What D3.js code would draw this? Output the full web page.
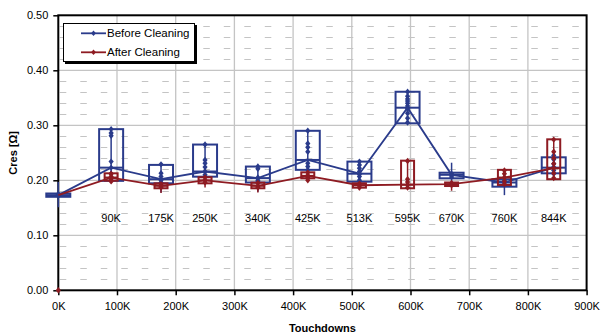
<!DOCTYPE html>
<html><head><meta charset="utf-8">
<script src="https://cdn.jsdelivr.net/npm/d3@7/dist/d3.min.js"></script>
<style>html,body{margin:0;padding:0;background:#fff;}svg{display:block;font-family:"Liberation Sans",Arial,sans-serif;}</style>
</head><body>
<svg id="chart" width="601" height="336"></svg>
<script>
// ---- data ----
const categories = [0, 90, 175, 250, 340, 425, 513, 595, 670, 760, 844];
const groupLabels = ["", "90K", "175K", "250K", "340K", "425K", "513K", "595K", "670K", "760K", "844K"];
const xTicks = [0, 100, 200, 300, 400, 500, 600, 700, 800, 900];
const xTickLabels = ["0K", "100K", "200K", "300K", "400K", "500K", "600K", "700K", "800K", "900K"];
const yTicks = [0, 0.1, 0.2, 0.3, 0.4, 0.5];
const yTickLabels = ["0.00", "0.10", "0.20", "0.30", "0.40", "0.50"];
const seriesNames = ["Before Cleaning", "After Cleaning"];

const beforeMid    = [0.173, 0.223, 0.202, 0.216, 0.204, 0.237, 0.212, 0.332, 0.210, 0.196, 0.223];
const beforeBoxLo  = [0.170, 0.199, 0.1945, 0.2066, 0.196, 0.219, 0.1975, 0.3036, 0.2036, 0.1884, 0.2127];
const beforeBoxHi  = [0.176, 0.293, 0.228, 0.265, 0.225, 0.290, 0.234, 0.361, 0.2138, 0.2018, 0.2418];
const beforeWhLo   = [0.151, 0.195, 0.178, 0.205, 0.179, 0.215, 0.194, 0.303, 0.188, 0.173, 0.210];
const beforeWhHi   = [0.197, 0.293, 0.229, 0.265, 0.225, 0.290, 0.234, 0.361, 0.232, 0.213, 0.245];
const beforePoints = [
  [0.173, 0.172, 0.175],
  [0.293, 0.286, 0.281, 0.234, 0.223, 0.212, 0.205, 0.200],
  [0.229, 0.213, 0.207, 0.200, 0.196],
  [0.265, 0.237, 0.231, 0.224, 0.216, 0.210],
  [0.225, 0.221, 0.205, 0.200, 0.197],
  [0.290, 0.267, 0.260, 0.252, 0.231, 0.225, 0.219],
  [0.234, 0.228, 0.222, 0.216, 0.211, 0.207, 0.200],
  [0.361, 0.353, 0.348, 0.344, 0.340, 0.335, 0.330, 0.322, 0.313, 0.305],
  [0.212, 0.209, 0.206],
  [0.200, 0.196, 0.192],
  [0.245, 0.238, 0.230, 0.224, 0.218, 0.212]
];

const afterMid    = [0.173, 0.205, 0.190, 0.200, 0.190, 0.208, 0.191, 0.192, 0.193, 0.205, 0.222];
const afterBoxLo  = [null, 0.1993, 0.1855, 0.1945, 0.1855, 0.2036, 0.1866, 0.1855, 0.1896, 0.1915, 0.202];
const afterBoxHi  = [null, 0.2127, 0.1945, 0.2055, 0.1957, 0.2145, 0.1945, 0.2357, 0.196, 0.219, 0.2745];
const afterWhLo   = [null, 0.196, 0.177, 0.187, 0.178, 0.197, 0.182, 0.185, 0.181, 0.190, 0.202];
const afterWhHi   = [null, 0.213, 0.195, 0.206, 0.196, 0.215, 0.195, 0.236, 0.196, 0.220, 0.275];
const afterPoints = [
  [0.0],
  [0.212, 0.207, 0.203, 0.198],
  [0.193, 0.190, 0.187],
  [0.205, 0.200, 0.196],
  [0.195, 0.190, 0.187],
  [0.214, 0.209, 0.205, 0.200],
  [0.194, 0.190, 0.187],
  [0.235, 0.202, 0.197, 0.192, 0.187],
  [0.195, 0.191],
  [0.218, 0.212, 0.205, 0.198, 0.193],
  [0.274, 0.252, 0.240, 0.230, 0.222, 0.213, 0.204]
];

// ---- layout ----
const BLUE = "#2A3B8B", RED = "#8E1B22", GRID = "#C4C4C4";
const svg = d3.select("#chart");
const x = d3.scaleLinear().domain([0, 900]).range([58.3, 586.6]);
const y = d3.scaleLinear().domain([0, 0.5]).range([290.3, 15.3]);
const x0 = x.range()[0], x1 = x.range()[1], y0 = y.range()[0], y1 = y.range()[1];

// minor dashed gridlines
const minor = d3.range(0.02, 0.5, 0.02).filter(v => Math.abs(v*10 - Math.round(v*10)) > 1e-6);
svg.append("g").selectAll("line").data(minor).join("line")
  .attr("x1", x0).attr("x2", x1).attr("y1", d => Math.round(y(d)) + 0.5).attr("y2", d => Math.round(y(d)) + 0.5)
  .attr("stroke", GRID).attr("stroke-width", 1).attr("stroke-dasharray", "6.5,14").attr("stroke-dashoffset", -1.5);
// major gridlines
svg.append("g").selectAll("line").data(yTicks.slice(1, -1)).join("line")
  .attr("x1", x0).attr("x2", x1).attr("y1", d => y(d)).attr("y2", d => y(d))
  .attr("stroke", GRID).attr("stroke-width", 1.3);
svg.append("g").selectAll("line").data(xTicks.slice(1, -1)).join("line")
  .attr("y1", y0).attr("y2", y1).attr("x1", d => x(d)).attr("x2", d => x(d))
  .attr("stroke", GRID).attr("stroke-width", 1.3);

// axes
const gx = svg.append("g").attr("transform", `translate(0,${y0})`)
  .call(d3.axisBottom(x).tickValues(xTicks).tickFormat((d, i) => xTickLabels[i]).tickSize(5).tickSizeOuter(0).tickPadding(7));
const gy = svg.append("g").attr("transform", `translate(${x0},0)`)
  .call(d3.axisLeft(y).tickValues(yTicks).tickFormat((d, i) => yTickLabels[i]).tickSize(5).tickSizeOuter(0).tickPadding(5));
[gx, gy].forEach(g => {
  g.select(".domain").remove();
  g.selectAll(".tick line").attr("stroke", "#000").attr("stroke-width", 1.5);
  g.selectAll(".tick text").attr("font-size", 11).attr("fill", "#000").attr("font-family", "Liberation Sans, Arial, sans-serif");
});
// frame
svg.append("rect").attr("x", x0).attr("y", y1).attr("width", x1 - x0).attr("height", y0 - y1)
  .attr("fill", "none").attr("stroke", "#000").attr("stroke-width", 2);

// axis titles
svg.append("text").attr("x", (x0 + x1) / 2).attr("y", 332).attr("text-anchor", "middle")
  .attr("font-size", 11).attr("font-weight", "bold").text("Touchdowns");
svg.append("text").attr("transform", `translate(17,${(y0 + y1) / 2}) rotate(-90)`).attr("text-anchor", "middle")
  .attr("font-size", 11).attr("font-weight", "bold").text("Cres [Ω]");

// group labels
svg.append("g").selectAll("text").data(categories).join("text")
  .attr("x", d => x(d)).attr("y", y(0.131)).attr("dy", "0.35em").attr("text-anchor", "middle")
  .attr("font-size", 11).attr("fill", "#000").text((d, i) => groupLabels[i]);

const diamond = (cx, cy, w = 2.6, h = 3.2) => `M${cx},${cy - h}L${cx + w},${cy}L${cx},${cy + h}L${cx - w},${cy}Z`;

function drawSeries(color, mid, lo, hi, wlo, whi, pts, halfW) {
  const g = svg.append("g");
  categories.forEach((c, i) => {
    const cx = x(c);
    if (wlo[i] != null) {
      g.append("line").attr("x1", cx).attr("x2", cx).attr("y1", y(wlo[i])).attr("y2", y(whi[i]))
        .attr("stroke", color).attr("stroke-width", 1.5);
    }
    if (lo[i] != null) {
      g.append("rect").attr("x", cx - halfW).attr("width", 2 * halfW)
        .attr("y", y(hi[i])).attr("height", y(lo[i]) - y(hi[i]))
        .attr("fill", "none").attr("stroke", color).attr("stroke-width", 2);
      g.append("line").attr("x1", cx - halfW).attr("x2", cx + halfW).attr("y1", y(mid[i])).attr("y2", y(mid[i]))
        .attr("stroke", color).attr("stroke-width", 2);
    }
    pts[i].forEach(v => g.append("path").attr("d", diamond(cx, y(v))).attr("fill", color));
  });
  g.append("path").datum(mid)
    .attr("d", d3.line().x((d, i) => x(categories[i])).y(d => y(d)))
    .attr("fill", "none").attr("stroke", color).attr("stroke-width", 1.8);
}
drawSeries(BLUE, beforeMid, beforeBoxLo, beforeBoxHi, beforeWhLo, beforeWhHi, beforePoints, 12);
drawSeries(RED, afterMid, afterBoxLo, afterBoxHi, afterWhLo, afterWhHi, afterPoints, 6.5);

// legend
const lg = svg.append("g");
lg.append("rect").attr("x", 65).attr("y", 25).attr("width", 132).attr("height", 39).attr("fill", "#000");
lg.append("rect").attr("x", 63.5).attr("y", 23.5).attr("width", 131).attr("height", 38)
  .attr("fill", "#fff").attr("stroke", "#000").attr("stroke-width", 1);
[[BLUE, 33.3], [RED, 52.3]].forEach(([col, ly], i) => {
  lg.append("line").attr("x1", 81).attr("x2", 106).attr("y1", ly).attr("y2", ly).attr("stroke", col).attr("stroke-width", 1.8);
  lg.append("path").attr("d", diamond(93.5, ly, 2.4, 2.8)).attr("fill", col);
  lg.append("text").attr("x", 107).attr("y", ly).attr("dy", "0.35em").attr("font-size", 11.5).attr("fill", "#000").text(seriesNames[i]);
});
</script>
</body></html>
